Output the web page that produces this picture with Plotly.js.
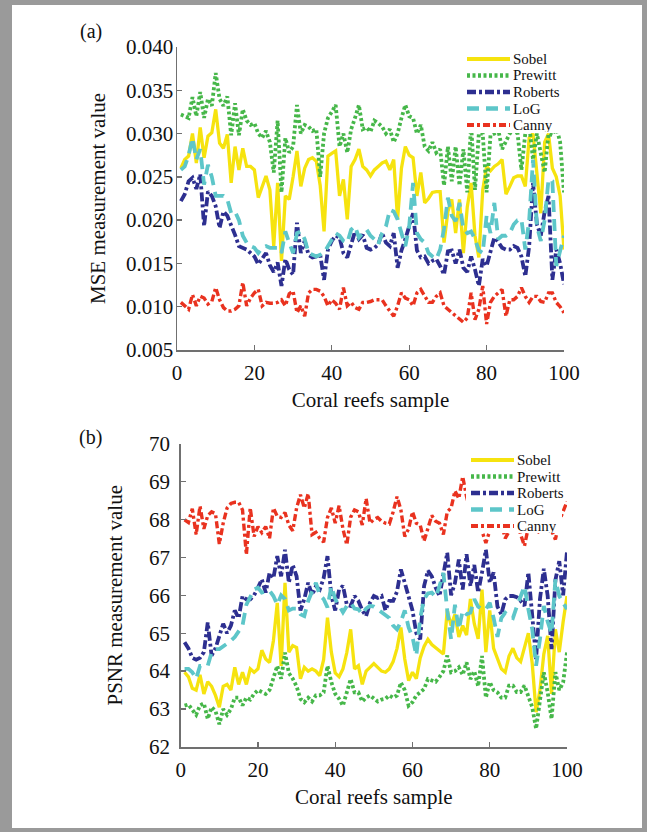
<!DOCTYPE html>
<html><head><meta charset="utf-8">
<script src="https://cdn.plot.ly/plotly-3.0.1.min.js"></script>
<style>
html,body{margin:0;padding:0;background:#fff;}
#frame{position:absolute;left:0;top:0;width:647px;height:832px;background:#9a9a9a;}
#inner{position:absolute;left:12px;top:5px;width:630px;height:823px;background:#fff;}
#chart{position:absolute;left:0;top:0;width:647px;height:832px;}
</style></head><body>
<div id="frame"><div id="inner"></div></div>
<div id="chart"></div>
<script>
const samples = Array.from({length:100}, (_, i) => i + 1);
const methods = ['Sobel','Prewitt','Roberts','LoG','Canny'];
const xTicks = [0,20,40,60,80,100];

const mseSobel = [0.0260,0.0270,0.0274,0.0300,0.0266,0.0307,0.0272,0.0297,0.0301,0.0328,
0.0289,0.0283,0.0299,0.0243,0.0285,0.0258,0.0283,0.0262,0.0262,0.0258,
0.0226,0.0239,0.0251,0.0235,0.0170,0.0243,0.0153,0.0228,0.0224,0.0250,
0.0280,0.0239,0.0260,0.0270,0.0272,0.0268,0.0240,0.0187,0.0274,0.0277,
0.0280,0.0228,0.0247,0.0201,0.0262,0.0270,0.0282,0.0262,0.0258,0.0251,
0.0258,0.0262,0.0266,0.0268,0.0258,0.0270,0.0201,0.0260,0.0285,0.0275,
0.0272,0.0228,0.0255,0.0220,0.0225,0.0232,0.0233,0.0233,0.0174,0.0210,
0.0224,0.0185,0.0224,0.0162,0.0215,0.0243,0.0182,0.0157,0.0235,0.0262,
0.0257,0.0262,0.0265,0.0270,0.0230,0.0239,0.0249,0.0251,0.0251,0.0239,
0.0295,0.0300,0.0255,0.0208,0.0290,0.0300,0.0260,0.0250,0.0228,0.0166];
const msePrewitt = [0.0322,0.0320,0.0318,0.0342,0.0320,0.0348,0.0318,0.0340,0.0332,0.0370,
0.0340,0.0332,0.0343,0.0298,0.0335,0.0298,0.0328,0.0315,0.0310,0.0312,
0.0300,0.0295,0.0303,0.0290,0.0255,0.0315,0.0232,0.0295,0.0278,0.0285,
0.0333,0.0300,0.0310,0.0308,0.0303,0.0305,0.0250,0.0300,0.0318,0.0325,
0.0333,0.0285,0.0300,0.0278,0.0305,0.0318,0.0333,0.0305,0.0307,0.0302,
0.0315,0.0312,0.0308,0.0300,0.0305,0.0290,0.0300,0.0318,0.0333,0.0320,
0.0318,0.0300,0.0310,0.0285,0.0280,0.0290,0.0278,0.0282,0.0240,0.0285,
0.0245,0.0285,0.0240,0.0282,0.0232,0.0310,0.0235,0.0300,0.0300,0.0232,
0.0298,0.0300,0.0305,0.0282,0.0290,0.0300,0.0305,0.0300,0.0258,0.0300,
0.0310,0.0270,0.0300,0.0275,0.0255,0.0300,0.0298,0.0308,0.0290,0.0232];
const mseRoberts = [0.0222,0.0230,0.0245,0.0249,0.0236,0.0253,0.0193,0.0233,0.0228,0.0216,
0.0191,0.0210,0.0205,0.0195,0.0183,0.0170,0.0168,0.0166,0.0162,0.0158,
0.0149,0.0155,0.0162,0.0148,0.0140,0.0151,0.0124,0.0155,0.0143,0.0137,
0.0197,0.0162,0.0176,0.0160,0.0157,0.0158,0.0160,0.0131,0.0166,0.0176,
0.0182,0.0180,0.0162,0.0157,0.0174,0.0187,0.0178,0.0183,0.0168,0.0166,
0.0168,0.0172,0.0185,0.0174,0.0170,0.0185,0.0145,0.0165,0.0178,0.0193,
0.0208,0.0165,0.0157,0.0158,0.0150,0.0153,0.0155,0.0147,0.0137,0.0164,
0.0165,0.0150,0.0166,0.0145,0.0140,0.0158,0.0143,0.0124,0.0155,0.0147,
0.0162,0.0180,0.0175,0.0168,0.0166,0.0166,0.0170,0.0168,0.0158,0.0135,
0.0170,0.0243,0.0195,0.0182,0.0210,0.0228,0.0131,0.0166,0.0150,0.0126];
const mseLoG = [0.0258,0.0262,0.0275,0.0295,0.0270,0.0282,0.0241,0.0264,0.0250,0.0228,
0.0228,0.0228,0.0224,0.0208,0.0210,0.0200,0.0182,0.0174,0.0170,0.0168,
0.0162,0.0168,0.0170,0.0168,0.0168,0.0168,0.0162,0.0187,0.0174,0.0162,
0.0185,0.0187,0.0178,0.0162,0.0160,0.0158,0.0160,0.0162,0.0170,0.0178,
0.0185,0.0182,0.0176,0.0174,0.0189,0.0193,0.0180,0.0185,0.0189,0.0182,
0.0178,0.0172,0.0185,0.0193,0.0212,0.0210,0.0201,0.0185,0.0170,0.0193,
0.0243,0.0185,0.0178,0.0174,0.0162,0.0158,0.0155,0.0166,0.0190,0.0226,
0.0205,0.0199,0.0220,0.0190,0.0185,0.0187,0.0178,0.0165,0.0162,0.0205,
0.0185,0.0220,0.0178,0.0182,0.0182,0.0185,0.0195,0.0200,0.0201,0.0166,
0.0200,0.0270,0.0193,0.0176,0.0200,0.0247,0.0245,0.0147,0.0165,0.0182];
const mseCanny = [0.0105,0.0101,0.0097,0.0114,0.0101,0.0112,0.0110,0.0103,0.0106,0.0122,
0.0108,0.0099,0.0095,0.0095,0.0097,0.0101,0.0128,0.0101,0.0110,0.0116,
0.0120,0.0101,0.0105,0.0104,0.0104,0.0105,0.0108,0.0101,0.0115,0.0118,
0.0093,0.0101,0.0089,0.0116,0.0120,0.0120,0.0118,0.0112,0.0101,0.0108,
0.0104,0.0097,0.0122,0.0101,0.0105,0.0099,0.0097,0.0105,0.0105,0.0106,
0.0108,0.0108,0.0108,0.0101,0.0095,0.0089,0.0101,0.0116,0.0110,0.0108,
0.0101,0.0116,0.0120,0.0112,0.0105,0.0105,0.0112,0.0116,0.0101,0.0097,
0.0093,0.0089,0.0085,0.0082,0.0087,0.0116,0.0085,0.0097,0.0124,0.0080,
0.0105,0.0112,0.0116,0.0120,0.0089,0.0108,0.0108,0.0112,0.0122,0.0112,
0.0105,0.0112,0.0112,0.0106,0.0105,0.0116,0.0116,0.0105,0.0100,0.0093];

const psnrSobel = [63.97,63.85,63.55,63.50,63.90,63.40,63.72,63.60,63.36,63.05,
63.60,63.65,63.50,64.10,63.65,63.97,63.65,64.06,63.97,64.06,
64.55,64.32,64.23,64.80,65.80,64.14,66.33,64.50,64.67,64.62,
63.80,64.10,64.00,64.06,64.00,63.88,64.30,65.41,64.50,63.95,
63.85,64.06,64.49,65.10,64.06,64.14,63.65,64.00,64.10,64.20,
64.10,64.00,63.97,64.06,64.25,64.60,65.15,64.32,63.75,63.97,
63.80,64.35,64.65,64.84,64.70,64.62,64.55,64.45,65.60,65.20,
65.50,64.90,65.20,64.95,65.90,65.25,64.85,66.15,64.50,65.60,
64.60,64.30,64.06,63.97,64.40,64.60,64.35,64.25,64.60,65.00,
64.20,62.92,63.50,64.45,64.93,63.40,65.10,64.50,65.30,65.98];
const psnrPrewitt = [63.09,63.12,62.98,62.85,63.10,63.15,62.74,63.05,62.95,62.60,
63.00,62.85,63.00,63.30,63.30,63.10,63.30,63.25,63.40,63.50,
63.45,63.40,63.50,63.85,64.14,63.80,64.49,63.95,63.80,63.60,
63.27,63.18,63.30,63.20,63.36,63.36,63.44,64.14,63.71,63.40,
63.27,63.09,63.44,63.79,63.44,63.44,63.20,63.30,63.36,63.27,
63.20,63.25,63.27,63.36,63.30,63.36,63.70,63.50,63.09,63.18,
63.36,63.44,63.53,63.79,63.75,63.72,63.85,64.00,64.41,63.97,
64.00,64.10,63.90,64.23,63.79,64.00,63.60,64.40,63.30,63.71,
63.50,63.44,63.30,63.30,63.62,63.62,63.45,63.45,63.62,63.30,
63.05,62.48,63.30,63.97,63.44,62.74,63.97,63.50,63.70,64.49];
const psnrRoberts = [64.76,64.60,64.35,64.30,64.35,64.50,65.28,64.41,64.60,64.93,
65.25,65.00,65.20,65.60,65.40,65.98,65.89,65.89,66.00,66.20,
66.42,66.07,66.59,66.45,67.03,66.50,67.20,66.33,66.80,66.50,
65.60,65.90,66.33,66.00,66.24,66.15,66.45,67.03,65.98,65.60,
66.15,66.25,65.75,65.72,65.98,65.85,65.60,65.45,65.80,65.98,
65.93,65.98,65.60,65.85,65.85,66.10,66.68,66.33,66.00,65.60,
65.00,64.84,66.24,66.65,66.50,66.20,65.98,66.59,67.12,66.00,
66.33,66.94,66.15,67.08,66.24,66.80,66.07,66.60,67.20,66.33,
66.60,65.70,65.50,65.89,65.98,65.98,65.95,65.85,65.72,66.60,
65.50,64.32,65.90,66.70,65.98,64.58,66.40,66.90,66.00,67.16];
const psnrLoG = [64.06,64.06,63.97,63.80,64.14,64.14,64.14,64.49,64.58,64.58,
64.65,64.72,64.80,64.90,65.05,65.20,65.75,65.98,66.15,66.20,
66.07,66.10,66.12,65.98,65.75,66.00,65.90,65.60,65.65,65.65,
65.50,65.45,65.85,66.10,66.33,66.00,65.90,65.68,66.24,65.90,
65.70,65.55,65.72,65.80,65.65,65.63,65.50,65.65,65.72,65.70,
65.63,65.55,65.50,65.40,65.20,65.10,65.30,65.60,65.15,64.90,
64.41,65.40,65.90,66.05,66.07,65.95,66.24,66.59,65.60,64.84,
65.75,65.10,65.60,65.50,65.54,65.90,65.70,65.63,65.63,65.80,
65.40,64.90,65.40,65.54,65.45,65.40,65.70,66.00,66.24,65.63,
65.10,64.14,64.84,65.72,65.30,65.00,66.42,65.98,65.80,65.63];
const psnrCanny = [67.99,67.92,68.28,67.60,68.35,67.75,68.10,68.20,68.15,67.35,
67.90,68.30,68.42,68.45,68.45,68.25,67.07,68.30,67.55,67.81,
67.65,67.81,67.50,68.30,68.08,68.05,68.18,67.85,67.70,68.30,
68.65,68.30,68.68,67.60,67.66,67.50,67.40,68.05,68.30,67.90,
68.36,67.75,67.33,68.06,68.25,68.20,67.85,68.55,67.90,68.00,
68.05,67.95,67.90,67.88,68.20,68.60,68.25,67.55,67.75,68.20,
67.90,67.85,67.43,67.80,68.10,67.95,67.90,67.60,68.20,68.30,
68.75,68.55,69.13,68.60,68.20,67.80,68.00,67.70,67.38,67.70,
68.10,67.80,67.90,67.50,67.68,68.10,67.95,67.60,67.30,67.80,
68.10,67.70,67.65,67.90,68.00,67.70,67.47,67.95,68.20,68.47];

const colors = ['#F6E30F','#46B749','#2D2F90','#5DC6C9','#E9321F'];
const dashes = ['solid','3px,2.5px','9px,3px,3px,3px','12px,7px','7px,3px,3px,3px'];
const widths = [3.3,3.8,3.8,3.8,3.4];

const FONT = 'Liberation Serif, Times New Roman, serif';
const W = 647, H = 832;
const px = v => v / W, py = v => 1 - v / H;

const mseSeries = [mseSobel, msePrewitt, mseRoberts, mseLoG, mseCanny];
const psnrSeries = [psnrSobel, psnrPrewitt, psnrRoberts, psnrLoG, psnrCanny];

const traces = [];
methods.forEach((m, k) => {
  traces.push({x: samples, y: mseSeries[k], type:'scatter', mode:'lines', name:m,
    line:{color:colors[k], width:widths[k], dash:dashes[k]}, xaxis:'x', yaxis:'y', showlegend:false});
});
methods.forEach((m, k) => {
  traces.push({x: samples, y: psnrSeries[k], type:'scatter', mode:'lines', name:m,
    line:{color:colors[k], width:widths[k], dash:dashes[k]}, xaxis:'x2', yaxis:'y2', showlegend:false});
});

const axisBase = {
  showline:true, linecolor:'#707070', linewidth:1.5, ticks:'inside', ticklen:5,
  tickcolor:'#707070', tickwidth:1.3, showgrid:false, zeroline:false,
  tickfont:{family:FONT, size:21, color:'#111'}
};
const titleFont = {family:FONT, size:21, color:'#111'};

const shapes = [];
const annotations = [];
function addLegend(rows, lineX0, lineX1, textX, box) {
  shapes.push({type:'rect', xref:'paper', yref:'paper', x0:px(box[0]), x1:px(box[1]), y0:py(box[3]), y1:py(box[2]),
    fillcolor:'#ffffff', line:{width:0}});
  methods.forEach((m, k) => {
    shapes.push({type:'line', xref:'paper', yref:'paper', x0:px(lineX0), x1:px(lineX1), y0:py(rows[k]), y1:py(rows[k]),
      line:{color:colors[k], width:widths[k]+0.6, dash:dashes[k]}});
    annotations.push({xref:'paper', yref:'paper', x:px(textX), y:py(rows[k]), xanchor:'left', yanchor:'middle',
      text:m, showarrow:false, height:14, borderpad:0, valign:'middle',
      font:{family:FONT, size:15, color:'#111'}});
  });
}
addLegend([59,75.5,92,108.5,125], 467, 510, 512, [462,566,50,133]);
addLegend([460,476.5,493,509.5,526], 471, 514, 516, [466,562,451,533]);

annotations.push({xref:'paper', yref:'paper', x:px(91), y:py(31), xanchor:'center', yanchor:'middle',
  text:'(a)', showarrow:false, font:{family:FONT, size:20, color:'#111'}});
annotations.push({xref:'paper', yref:'paper', x:px(91), y:py(437), xanchor:'center', yanchor:'middle',
  text:'(b)', showarrow:false, font:{family:FONT, size:20, color:'#111'}});

const layout = {
  width:W, height:H, margin:{l:0, r:0, t:0, b:0},
  paper_bgcolor:'rgba(0,0,0,0)', plot_bgcolor:'rgba(0,0,0,0)',
  showlegend:false,
  xaxis:{...axisBase, domain:[px(177), px(564)], range:[0,100], tickvals:xTicks, anchor:'y',
    ticklabelstandoff:3, title:{text:'Coral reefs sample', font:titleFont, standoff:8}},
  yaxis:{...axisBase, domain:[py(350), py(47)], range:[0.005,0.040], tick0:0.005, dtick:0.005, tickformat:'.3f',
    anchor:'x', ticklabelstandoff:-2, title:{text:'MSE measurement value', font:titleFont, standoff:14}},
  xaxis2:{...axisBase, domain:[px(180.7), px(567)], range:[0,100], tickvals:xTicks, anchor:'y2',
    ticklabelstandoff:3, title:{text:'Coral reefs sample', font:titleFont, standoff:8}},
  yaxis2:{...axisBase, domain:[py(747), py(443.5)], range:[62,70], dtick:1, anchor:'x2',
    ticklabelstandoff:5, title:{text:'PSNR measurement value', font:titleFont, standoff:20}},
  shapes: shapes,
  annotations: annotations
};

Plotly.newPlot('chart', traces, layout, {displayModeBar:false, staticPlot:true});
</script>
</body></html>
